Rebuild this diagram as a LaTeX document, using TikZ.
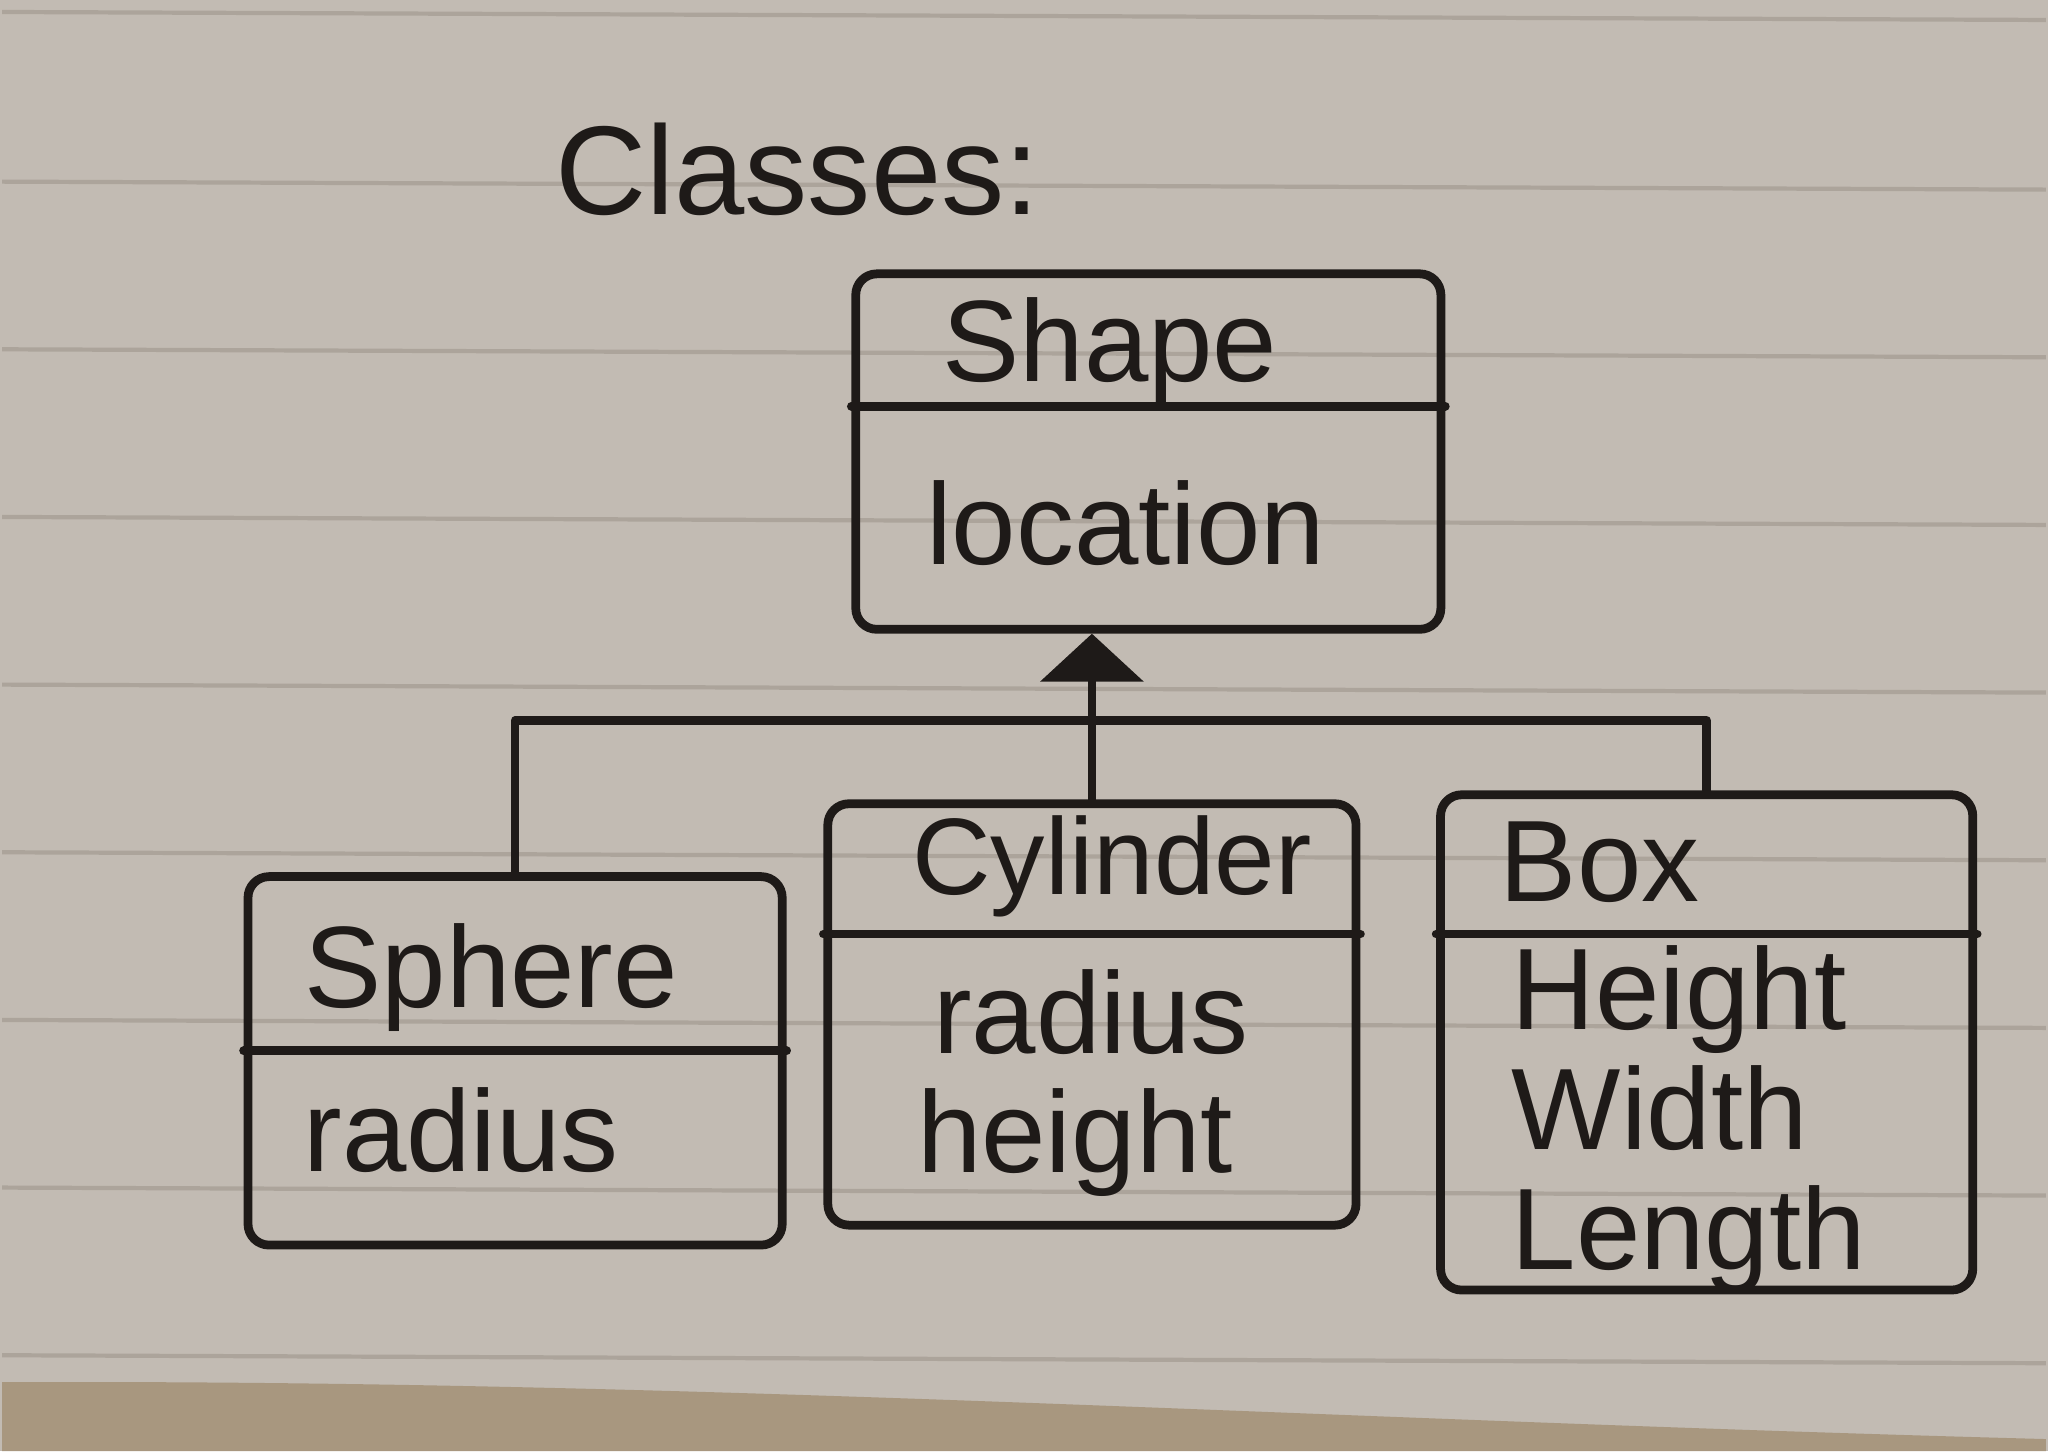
\documentclass[tikz,border=0pt]{standalone}
\usepackage{fontspec}
\setmainfont{Liberation Sans}
\usetikzlibrary{arrows.meta}
\definecolor{paper}{HTML}{C2BBB3}
\definecolor{rule}{HTML}{ACA49B}
\definecolor{table}{HTML}{A8977F}
\definecolor{ink}{HTML}{1E1A18}
\begin{document}
\begin{tikzpicture}[x=0.01cm,y=-0.01cm,
  pen/.style={draw=ink,line width=2.5pt,line cap=round,line join=round},
  classbox/.style={pen,rectangle,rounded corners=6pt,anchor=north west,inner sep=0pt},
  label/.style={text=ink,font=\fontsize{33}{37}\selectfont,inner sep=0pt}]
  % paper and ruled lines
  \fill[paper] (-2,-2) rectangle (2050,1452);
  \foreach \yy in {10,180,348,516,684,852,1020,1188,1356}
    \draw[rule,line width=1.2pt] (0,\yy) -- (2048,\yy+8);
  \fill[table] (0,1383) .. controls (700,1380) and (1300,1420) .. (2048,1440) -- (2048,1452) -- (0,1452) -- cycle;
  \useasboundingbox (0,0) rectangle (2048,1450);

  % title
  \node[label,font=\fontsize{36}{40}\selectfont] (title) at (797,168) {Classes:};

  % Shape
  \node[classbox,minimum width=5.86cm,minimum height=3.56cm] (shape) at (851,268) {};
  \draw[pen] (shape.west |- 0,405) coordinate (shl) -- (shape.east |- 0,405) coordinate (shr);
  \node[label] (shapename) at (1110,350) {Shape};
  \node[label] (shapeattr) at (1126,522) {location};

  % Sphere
  \node[classbox,minimum width=5.35cm,minimum height=3.69cm] (sph) at (242,872) {};
  \draw[pen] (sph.west |- 0,1051) coordinate (spl) -- (sph.east |- 0,1051) coordinate (spr);
  \node[label] (sphname) at (490,978) {Sphere};
  \node[label] (sphattr) at (460,1130) {radius};

  % Cylinder
  \node[classbox,minimum width=5.29cm,minimum height=4.22cm] (cyl) at (823,799) {};
  \draw[pen] (cyl.west |- 0,934) coordinate (cyll) -- (cyl.east |- 0,934) coordinate (cylr);
  \node[label,font=\fontsize{31}{35}\selectfont] (cylname) at (1112,866) {Cylinder};
  \node[label] (cylattr1) at (1091,1012) {radius};
  \node[label] (cylattr2) at (1075,1143) {height};

  % Box
  \node[classbox,minimum width=5.33cm,minimum height=4.96cm] (bx) at (1437,790) {};
  \draw[pen] (bx.west |- 0,934) coordinate (bxl) -- (bx.east |- 0,934) coordinate (bxr);
  \node[label,anchor=west] (bxname) at (1500,862) {Box};
  \node[label,anchor=west] (bxattr1) at (1512,1000) {Height};
  \node[label,anchor=west] (bxattr2) at (1512,1108) {Width};
  \node[label,anchor=west] (bxattr3) at (1512,1240) {Length};

  % inheritance connectors
  \coordinate (join) at (cyl.north |- 0,720);
  \draw[pen,-{Triangle[length=0.48cm,width=1.02cm,fill=ink]}] (cyl.north) -- (cyl.north |- shape.south);
  \draw[pen] (sph.north) |- (join) -| (bx.north);
\end{tikzpicture}
\end{document}
